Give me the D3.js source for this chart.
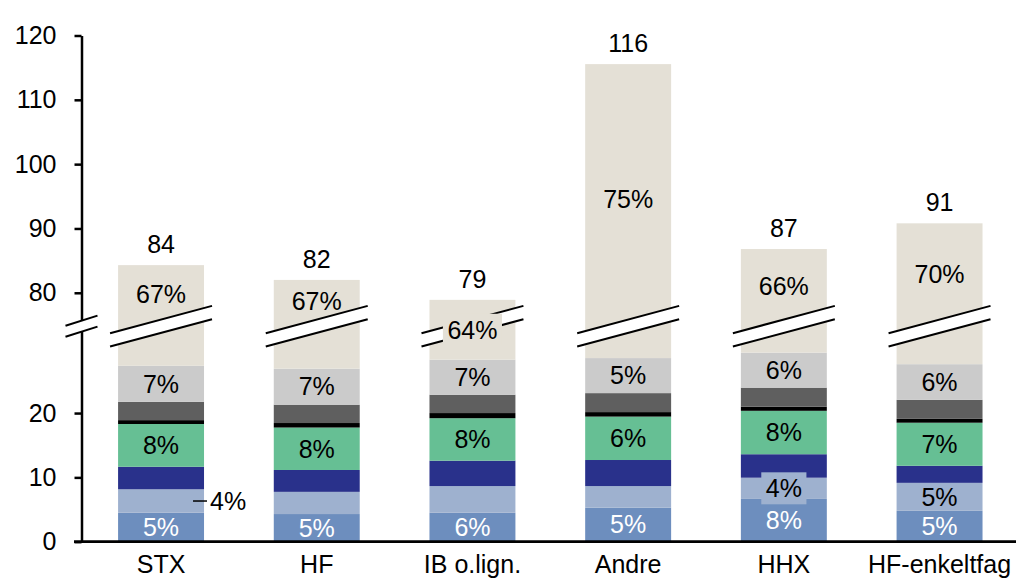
<!DOCTYPE html>
<html>
<head>
<meta charset="utf-8">
<script src="https://cdn.jsdelivr.net/npm/d3@7"></script>
<style>
  html, body { margin: 0; padding: 0; background: #fff; }
  svg { display: block; }
  text { font-family: "Liberation Sans", Arial, sans-serif; }
</style>
</head>
<body>
<svg id="chart" width="1016" height="579"></svg>
<script>
// ---------- DATA ----------
const categories = ["STX", "HF", "IB o.lign.", "Andre", "HHX", "HF-enkeltfag"];

const blue      = [4.5, 4.3, 4.5, 5.3, 6.65, 4.8];
const lightBlue = [3.65, 3.45, 4.15, 3.35, 3.3, 4.35];
const navy      = [3.5, 3.4, 3.95, 4.05, 3.65, 2.65];
const green     = [6.65, 6.6, 6.6, 6.75, 6.75, 6.7];
const black     = [0.6, 0.7, 0.8, 0.7, 0.65, 0.6];
const darkGrey  = [2.85, 2.85, 2.85, 2.95, 2.95, 2.95];
const lightGrey = [5.6, 5.6, 5.45, 5.45, 5.45, 5.55];
const beige     = [56.95, 55.1, 50.6, 87.0, 57.4, 63.2];

const pctBlue      = ["5%", "5%", "6%", "5%", "8%", "5%"];
const pctLightBlue = ["4%", null, null, null, "4%", "5%"];
const pctGreen     = ["8%", "8%", "8%", "6%", "8%", "7%"];
const pctLightGrey = ["7%", "7%", "7%", "5%", "6%", "6%"];
const pctBeige     = ["67%", "67%", "64%", "75%", "66%", "70%"];

const yTickValues = [0, 10, 20, 80, 90, 100, 110, 120];
const lowerMax = 33.5;   // top of the lower axis segment
const upperMin = 74.8;   // bottom of the upper axis segment

// ---------- SETUP ----------
const seriesList = [
  { key: "blue",      values: blue,      color: "#6d8ebe", labels: pctBlue,      labelColor: "#fff" },
  { key: "lightBlue", values: lightBlue, color: "#9eb1cf", labels: pctLightBlue, labelColor: "#000" },
  { key: "navy",      values: navy,      color: "#29318b", labels: null },
  { key: "green",     values: green,     color: "#66bf94", labels: pctGreen,     labelColor: "#000" },
  { key: "black",     values: black,     color: "#000000", labels: null },
  { key: "darkGrey",  values: darkGrey,  color: "#5f5f5f", labels: null },
  { key: "lightGrey", values: lightGrey, color: "#cbcbcb", labels: pctLightGrey, labelColor: "#000" },
  { key: "beige",     values: beige,     color: "#e4e0d6", labels: pctBeige,     labelColor: "#000" }
];

const table = categories.map((c, i) => {
  const row = { cat: c };
  seriesList.forEach(s => row[s.key] = s.values[i]);
  return row;
});
const stack = d3.stack().keys(seriesList.map(s => s.key))(table);
const totals = table.map(r => seriesList.reduce((a, s) => a + r[s.key], 0));

const svg = d3.select("#chart");
const FONT = 25;

const x = d3.scaleBand()
  .domain(categories)
  .range([83.2, 1017.4])
  .paddingInner(0.448)
  .paddingOuter(0.224);

const yBottom = 541.7, yTop = 35.5;
const pxPerUnit = (yBottom - yTop) / (lowerMax + (120 - upperMin));
const yBreak = yBottom - lowerMax * pxPerUnit;
const y = d3.scaleLinear()
  .domain([0, lowerMax, upperMin, 120])
  .range([yBottom, yBreak, yBreak, yTop]);

const bw = x.bandwidth();

// ---------- BARS ----------
const gBars = svg.append("g");
stack.forEach((layer, li) => {
  gBars.selectAll(null)
    .data(layer)
    .join("rect")
    .attr("x", d => x(d.data.cat))
    .attr("width", bw)
    .attr("y", d => y(d[1]))
    .attr("height", d => y(d[0]) - y(d[1]))
    .attr("fill", seriesList[li].color);
});

// ---------- BAR BREAKS ----------
const barSlope = -0.268, barGap = 13.4;
const gBreak = svg.append("g");
categories.forEach(c => {
  const cx = x(c) + bw / 2;
  const x1 = x(c) - 8, x2 = x(c) + bw + 8;
  const up = xx => yBreak - barGap / 2 + barSlope * (xx - cx);
  const lo = xx => up(xx) + barGap;
  gBreak.append("polygon")
    .attr("points", [[x1, up(x1)], [x2, up(x2)], [x2, lo(x2)], [x1, lo(x1)]].map(p => p.join(",")).join(" "))
    .attr("fill", "#fff");
  [up, lo].forEach(f => {
    gBreak.append("line")
      .attr("x1", x1).attr("y1", f(x1))
      .attr("x2", x2).attr("y2", f(x2))
      .attr("stroke", "#000").attr("stroke-width", 2);
  });
});

// ---------- AXES ----------
const axisX = 81.5;
const yAxis = d3.axisLeft(y).tickValues(yTickValues).tickSize(7).tickSizeOuter(0).tickPadding(18).tickFormat(d3.format("d"));
const gY = svg.append("g").attr("transform", `translate(${axisX},0)`).call(yAxis);
gY.select(".domain").attr("stroke", "#000").attr("stroke-width", 2.5);
gY.selectAll(".tick line").attr("stroke", "#000").attr("stroke-width", 2.5);
gY.selectAll(".tick text").attr("font-size", FONT).attr("fill", "#000")
  .attr("font-family", '"Liberation Sans", Arial, sans-serif');

// axis break
{
  const s = -0.316, gap = 11, half = 16;
  const up = xx => yBreak - gap / 2 + s * (xx - axisX);
  const lo = xx => up(xx) + gap;
  const x1 = axisX - half, x2 = axisX + half;
  svg.append("polygon")
    .attr("points", [[x1, up(x1)], [x2, up(x2)], [x2, lo(x2)], [x1, lo(x1)]].map(p => p.join(",")).join(" "))
    .attr("fill", "#fff");
  [up, lo].forEach(f => {
    svg.append("line")
      .attr("x1", x1).attr("y1", f(x1)).attr("x2", x2).attr("y2", f(x2))
      .attr("stroke", "#000").attr("stroke-width", 2);
  });
}

// x axis
svg.append("line")
  .attr("x1", 74).attr("x2", 1016)
  .attr("y1", y(0)).attr("y2", y(0))
  .attr("stroke", "#000").attr("stroke-width", 2.8);

const xAxis = d3.axisBottom(x).tickSize(0).tickPadding(13.5);
const gX = svg.append("g").attr("transform", `translate(0,${y(0)})`).call(xAxis);
gX.select(".domain").remove();
gX.selectAll(".tick text").attr("font-size", FONT).attr("fill", "#000")
  .attr("font-family", '"Liberation Sans", Arial, sans-serif');

// ---------- LABELS ----------
const gLab = svg.append("g").attr("font-size", FONT);

function addLabel(tx, ty, str, color, anchor, bg) {
  const t = gLab.append("text")
    .attr("x", tx).attr("y", ty).attr("dy", "0.35em")
    .attr("text-anchor", anchor || "middle")
    .attr("fill", color)
    .text(str);
  if (bg) {
    const w = t.node().getComputedTextLength() + 9;
    gLab.insert("rect", "text")
      .attr("x", tx - w / 2).attr("y", ty - 16)
      .attr("width", w).attr("height", 32)
      .attr("fill", bg);
  }
  return t;
}

seriesList.forEach((s, li) => {
  if (!s.labels) return;
  stack[li].forEach((d, i) => {
    const str = s.labels[i];
    if (!str) return;
    const cat = categories[i];
    const cx = x(cat) + bw / 2;
    const top = y(d[1]), bot = y(d[0]);
    if (s.key === "beige") {
      const breakTop = yBreak - barGap / 2;
      const space = breakTop - top;
      if (space < 30) {
        addLabel(cx, (top + bot) / 2, str, s.labelColor, "middle", s.color);
      } else {
        addLabel(cx, breakTop - 0.47 * space, str, s.labelColor);
      }
    } else if (s.key === "lightBlue" && cat === "STX") {
      const cy = (top + bot) / 2;
      const right = x(cat) + bw;
      gLab.append("line")
        .attr("x1", right - 11).attr("x2", right + 3)
        .attr("y1", cy).attr("y2", cy)
        .attr("stroke", "#000").attr("stroke-width", 1.5);
      addLabel(right + 6, cy, str, s.labelColor, "start");
    } else if (s.key === "lightBlue" && cat === "HHX") {
      addLabel(cx, (top + bot) / 2, str, s.labelColor, "middle", s.color);
    } else {
      addLabel(cx, (top + bot) / 2, str, s.labelColor);
    }
  });
});

// totals
categories.forEach((c, i) => {
  gLab.append("text")
    .attr("x", x(c) + bw / 2)
    .attr("y", y(totals[i]) - 12)
    .attr("text-anchor", "middle")
    .attr("fill", "#000")
    .text(d3.format(".0f")(totals[i]));
});
</script>
</body>
</html>
